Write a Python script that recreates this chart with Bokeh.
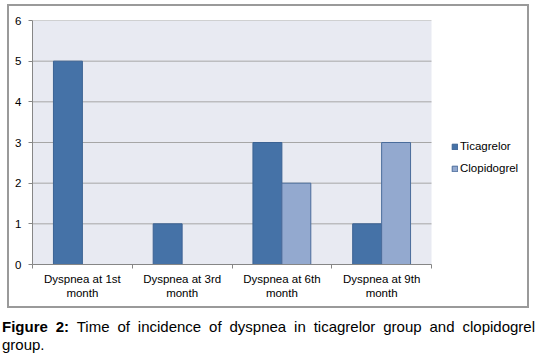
from bokeh.plotting import figure
from bokeh.models import (Range1d, LinearAxis, FixedTicker, Legend, LegendItem,
                          Div, ColumnDataSource, BoxAnnotation)
from bokeh.layouts import column
from bokeh.embed import file_html
from bokeh.resources import INLINE

categories = ["Dyspnea at 1st\nmonth", "Dyspnea at 3rd\nmonth",
              "Dyspnea at 6th\nmonth", "Dyspnea at 9th\nmonth"]
ticagrelor = [5, 1, 3, 1]
clopidogrel = [0, 0, 2, 3]
y_ticks = [0, 1, 2, 3, 4, 5, 6]
series_names = ["Ticagrelor", "Clopidogrel"]
caption_bold = "Figure 2:"
caption_text = "Time of incidence of dyspnea in ticagrelor group and clopidogrel group."

FONT = "Liberation Sans"
C_TIC = "#4572A7"
C_CLO = "#93A9CF"
AXIS_C = "#868686"

n = len(categories)
centers = [i + 0.5 for i in range(n)]
bw = 0.29
y_max = y_ticks[-1]

# frame spans plot area (399 px for the 4 categories) plus the legend area (96 px)
x_end = n * (399 + 96) / 399

p = figure(width=518, height=300, output_backend="svg", toolbar_location=None,
           x_axis_type=None, y_axis_type=None,
           x_range=Range1d(0, x_end), y_range=Range1d(0, y_max),
           min_border_left=23, min_border_right=0, min_border_top=14,
           min_border_bottom=42, margin=(6, 0, 0, 9),
           styles={"outline": "2px solid #9A9A9A"})
p.background_fill_color = "white"
p.border_fill_color = "white"
p.outline_line_color = None

# plot area background
p.add_layout(BoxAnnotation(left=0, right=n, bottom=0, top=y_max,
                           fill_color="#E8EAF2", fill_alpha=1, line_color=None,
                           level="underlay"))

# horizontal grid lines across the plot area only
gsrc = ColumnDataSource(dict(y=y_ticks[1:], x0=[0] * (len(y_ticks) - 1),
                             x1=[n] * (len(y_ticks) - 1)))
p.segment(x0="x0", x1="x1", y0="y", y1="y", source=gsrc,
          line_color="#A6A6A6", line_width=1)

src = ColumnDataSource(dict(
    xt=[c - bw / 2 for c in centers],
    xc=[c + bw / 2 for c in centers],
    tic=ticagrelor, clo=clopidogrel))

r1 = p.vbar(x="xt", top="tic", width=bw, source=src, fill_color=C_TIC,
            line_color="#3B6293", line_width=1)
r2 = p.vbar(x="xc", top="clo", width=bw, source=src, fill_color=C_CLO,
            line_color="#4A6C9B", line_width=1)

# y axis
yax = LinearAxis(ticker=FixedTicker(ticks=y_ticks, minor_ticks=[]))
yax.axis_line_color = AXIS_C
yax.major_tick_line_color = AXIS_C
yax.major_tick_in = 0
yax.major_tick_out = 4
yax.minor_tick_line_color = None
yax.major_label_text_font = FONT
yax.major_label_text_font_size = "11.5px"
yax.major_label_text_color = "#000000"
yax.major_label_standoff = 7
p.add_layout(yax, "left")

# x axis
xax = LinearAxis(ticker=FixedTicker(ticks=centers, minor_ticks=list(range(n + 1))),
                 bounds=(0, n))
xax.axis_line_color = AXIS_C
xax.major_tick_line_color = None
xax.major_tick_in = 0
xax.major_tick_out = 4
xax.minor_tick_line_color = AXIS_C
xax.minor_tick_in = 0
xax.minor_tick_out = 4
xax.major_label_overrides = {float(c): lab for c, lab in zip(centers, categories)}
xax.major_label_text_font = FONT
xax.major_label_text_font_size = "11.5px"
xax.major_label_text_color = "#000000"
xax.major_label_standoff = 4
p.add_layout(xax, "below")

legend = Legend(items=[LegendItem(label=series_names[0], renderers=[r1]),
                       LegendItem(label=series_names[1], renderers=[r2])],
                location=(419, 88), orientation="vertical")
legend.glyph_width = 7
legend.glyph_height = 7
legend.label_height = 16
legend.spacing = 6
legend.padding = 0
legend.margin = 0
legend.label_standoff = 2
legend.border_line_color = None
legend.background_fill_alpha = 0
legend.label_text_font = FONT
legend.label_text_font_size = "11.5px"
legend.label_text_color = "#000000"
p.add_layout(legend, "center")

cap = Div(text=f"<b>{caption_bold}</b> {caption_text}", width=533,
          margin=(12, 2, 0, 2),
          styles={"font-family": FONT + ", Arial, sans-serif", "font-size": "15px",
                  "line-height": "18px", "text-align": "justify", "color": "#000"})

layout = column(p, cap, spacing=0)
open("out.html", "w").write(file_html(layout, INLINE))
